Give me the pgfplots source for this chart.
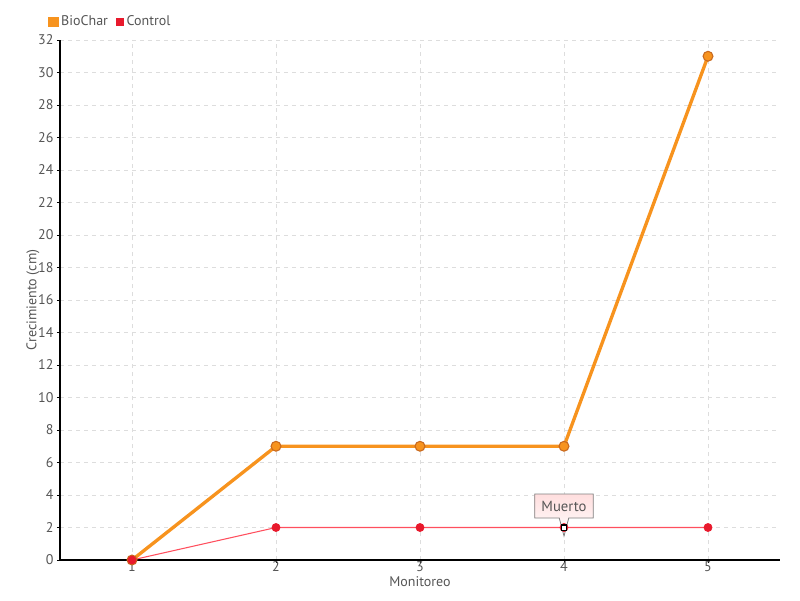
\documentclass[border=0pt]{standalone}
\usepackage{fontspec}
\setmainfont{PT Sans}
\usepackage{pgfplots}
\pgfplotsset{compat=1.18}
\usetikzlibrary{shapes.callouts}
\definecolor{bioorange}{HTML}{F7931E}
\definecolor{bioedge}{HTML}{C8691E}
\definecolor{ctrlline}{HTML}{FF4F5E}
\definecolor{ctrlmark}{HTML}{E8192C}
\definecolor{ctrledge}{HTML}{B81020}
\definecolor{txtgray}{HTML}{555555}
\definecolor{gridgray}{HTML}{DDDDDD}
\begin{document}
\begin{tikzpicture}
\begin{axis}[
  name=ax,
  scale only axis,
  width=540pt, height=390pt,
  xmin=0.5, xmax=5.5,
  ymin=0, ymax=32,
  xtick={1,2,3,4,5},
  ytick={0,2,...,32},
  axis lines*=left,
  axis line style={-, black, line width=0.8pt},
  grid=major,
  major grid style={gridgray, dashed, line width=0.6pt},
  tick style={black, line width=0.6pt},
  major tick length=2.4pt,
  tick align=outside,
  tick label style={font=\fontsize{10.5}{12}\selectfont, text=txtgray},
  x tick label style={yshift=4.5pt},
  y tick label style={xshift=1pt},
  /pgf/number format/assume math mode=true,
  xlabel={Monitoreo},
  ylabel={Crecimiento (cm)},
  label style={font=\fontsize{10.5}{12}\selectfont, text=txtgray},
  x label style={at={(axis description cs:0.5,-0.041)}, anchor=center},
  y label style={at={(axis description cs:-0.0375,0.5)}, anchor=center},
  legend columns=2,
  legend style={at={(axis description cs:0,1)}, anchor=west, xshift=-9pt, yshift=13.5pt,
    draw=none, fill=none, inner sep=0pt,
    font=\fontsize{10.5}{12}\selectfont, text=txtgray,
    /tikz/every even column/.append style={column sep=4pt}},
]
\addplot[bioorange, line width=2.5pt, mark=*, mark size=3.7pt,
  mark options={fill=bioorange, draw=bioedge, line width=0.8pt},
  legend image code/.code={\fill[bioorange] (0pt,-2.6pt) rectangle (5.2pt,2.6pt);}]
  coordinates {(1,0) (2,7) (3,7) (4,7) (5,31)};
\addlegendentry{BioChar}
\addplot[ctrlline, line width=0.8pt, mark=*, mark size=3pt,
  mark options={fill=ctrlmark, draw=ctrlmark, line width=0.6pt},
  legend image code/.code={\fill[ctrlmark] (0pt,-2.6pt) rectangle (5.2pt,2.6pt);}]
  coordinates {(1,0) (2,2) (3,2) (4,2) (5,2)};
\addlegendentry{Control}
\addplot[only marks, mark=square*, mark size=1.9pt,
  mark options={fill=white, draw=black, line width=0.8pt}, forget plot]
  coordinates {(4,2)};
\node[rectangle callout, callout relative pointer={(0pt,-13.5pt)},
  draw=gray, line width=0.6pt, top color=red!13, bottom color=white,
  minimum width=44pt, minimum height=18pt, inner sep=2pt,
  font=\fontsize{11}{12}\selectfont, text=txtgray]
  at (axis cs:4,3.32) {Muerto};
\end{axis}
\pgfresetboundingbox
\path ([shift={(-45pt,-30pt)}]ax.south west) rectangle ([shift={(15pt,30pt)}]ax.north east);
\end{tikzpicture}
\end{document}
